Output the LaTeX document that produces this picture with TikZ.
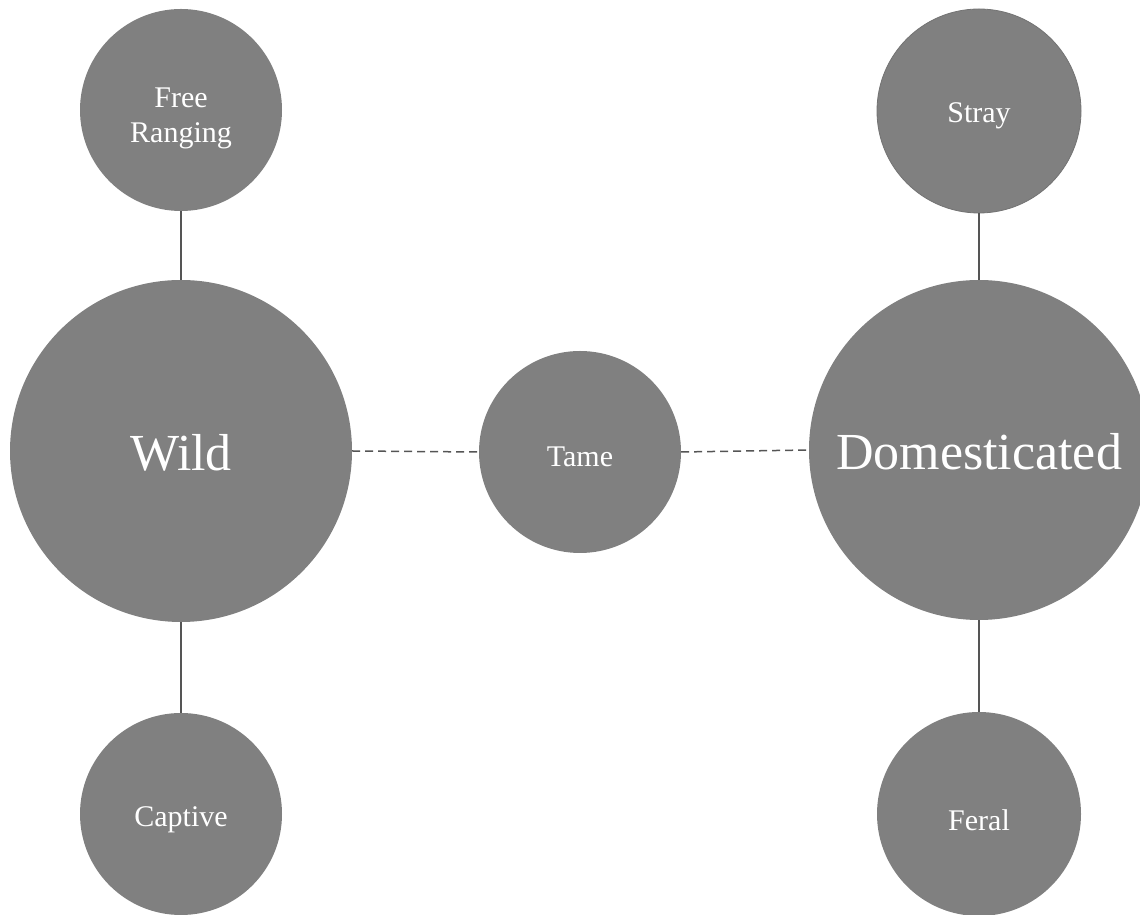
\documentclass[tikz,border=0pt]{standalone}
\usepackage{fontspec}
\setmainfont{Liberation Serif}
\definecolor{bubble}{RGB}{128,128,128}
\definecolor{linkgray}{RGB}{85,85,85}
\begin{document}
\begin{tikzpicture}[x=1pt,y=1pt,
  bubble/.style={circle,fill=bubble,draw=none,inner sep=0pt,minimum size=#1},
  smalltext/.style={text=white,font=\fontsize{30}{35}\selectfont,align=center},
  bigtext/.style={text=white,font=\fontsize{52}{60}\selectfont},
  solidlink/.style={draw=linkgray,line width=1.4pt},
  dashlink/.style={draw=linkgray,line width=1.5pt,dash pattern=on 8pt off 5pt}]
\useasboundingbox (0,0) rectangle (1140,915);
% circles
\node[bubble=202pt] (fr) at (181,805) {};
\node[bubble=342pt] (wild) at (181,464) {};
\node[bubble=202pt] (cap) at (181,101) {};
\node[bubble=202pt] (tame) at (580,463) {};
\node[bubble=340pt] (dom) at (979,465) {};
\node[bubble=204pt,draw=black!55,line width=0.8pt] (stray) at (979,804) {};
\node[bubble=204pt] (feral) at (979,101) {};
% labels
\node[smalltext] (frl) at ([yshift=-8pt]fr.center) {Free\\Ranging};
\node[bigtext] (wildl) at ([yshift=-2pt]wild.center) {Wild};
\node[smalltext] (capl) at ([yshift=-6pt]cap.center) {Captive};
\node[smalltext] (tamel) at ([yshift=-5pt]tame.center) {Tame};
\node[bigtext] (doml) at ([yshift=-2pt]dom.center) {Domesticated};
\node[smalltext] (strayl) at ([yshift=-5pt]stray.center) {Stray};
\node[smalltext] (ferall) at ([yshift=-6pt]feral.center) {Feral};
% connectors
\draw[solidlink] (fr.south) -- (wild.north);
\draw[solidlink] (wild.south) -- (cap.north);
\draw[solidlink] (stray.south) -- (dom.north);
\draw[solidlink] (dom.south) -- (feral.north);
\draw[dashlink] (wild.east) -- (tame.west);
\draw[dashlink] (tame.east) -- (dom.west);
\end{tikzpicture}
\end{document}
